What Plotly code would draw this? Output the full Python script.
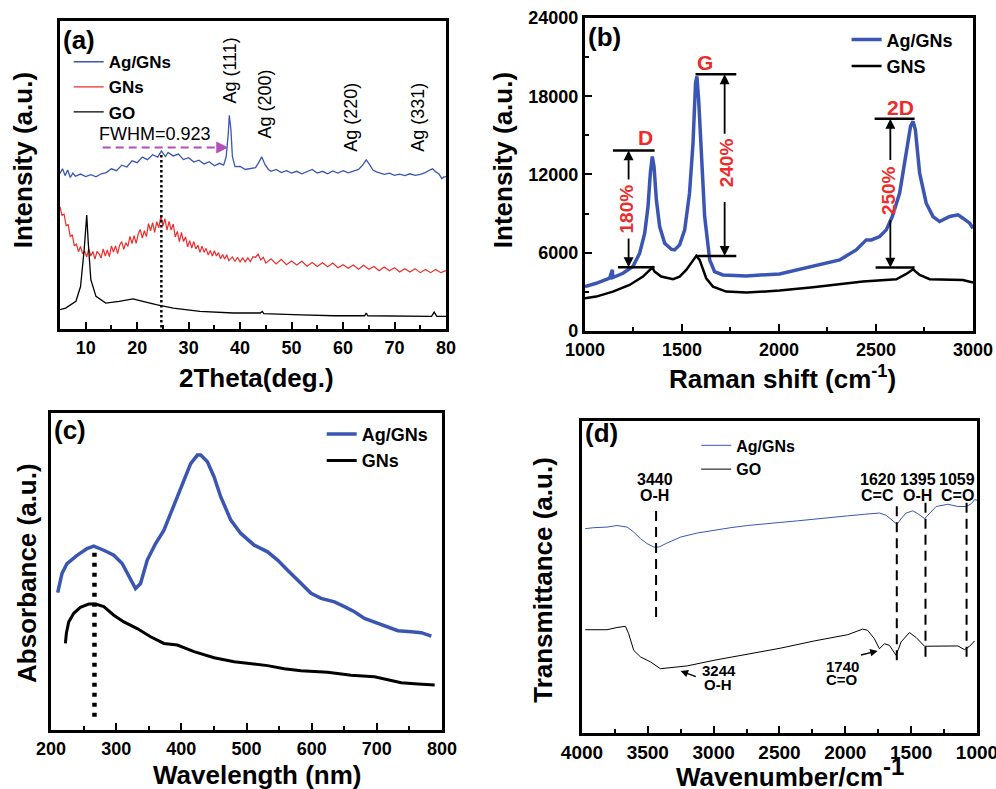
import plotly.graph_objects as go

FONT = "Liberation Sans, Arial, sans-serif"
BLUE = "#3a56b2"
RED = "#ee2b2b"
BLACK = "#000000"

# ---------------- (a) XRD ----------------
xrd_ag_x = [5.0, 5.5, 6.0, 6.5, 7.0, 7.5, 8.0, 9, 10, 11, 12, 13, 14, 15, 16, 17, 18, 19, 20, 21, 22, 23, 24,
            24.7, 25.5, 26, 27, 28, 29, 30, 31, 32, 33, 34, 35, 36, 36.8, 37.3, 37.7, 37.9, 38.2, 38.5, 39.0,
            40, 41, 42, 43, 43.6, 44.2, 44.8, 45.5, 46, 47, 48, 49, 50, 51, 52, 53, 54, 55, 56, 57, 58, 59,
            60, 61, 62, 63, 63.8, 64.5, 65.1, 65.8, 66.5, 67, 68, 69, 70, 71, 72, 73, 74, 75, 76, 76.8, 77.4,
            78, 78.6, 79.2, 79.6, 80]
xrd_ag_y = [50.5, 52.0, 49.8, 51.6, 49.2, 50.6, 49.6, 50.3, 49.5, 50.1, 49.4, 50.4, 50.8, 52.0, 51.4, 53.2,
            52.6, 54.6, 54.0, 55.8, 55.0, 56.6, 55.8, 57.8, 56.0, 57.3, 56.2, 56.8, 55.0, 55.6, 54.2, 54.8,
            53.6, 54.3, 53.0, 53.8, 53.2, 56.0, 63.5, 69.4, 65.0, 56.0, 52.7, 52.8, 51.8, 52.2, 52.4, 54.0,
            55.9, 53.5, 51.8, 51.2, 51.8, 50.8, 51.4, 50.6, 51.2, 50.4, 51.0, 51.8, 50.6, 51.2, 50.4, 51.3,
            50.6, 51.4, 50.7, 51.2, 51.8, 53.2, 54.9, 53.5, 51.6, 51.0, 50.8, 50.2, 50.6, 49.9, 50.3, 49.8,
            50.4, 49.9, 50.2, 50.8, 51.6, 52.0, 51.0, 50.4, 48.8, 49.4, 49.5]

xrd_gns_x = [5.0, 5.4, 5.8, 6.2, 6.6, 7.0, 7.4, 7.8, 8.2, 8.6, 9.0, 9.4, 9.8, 10.2, 10.6, 11.0, 11.4, 11.8,
             12.2, 12.6, 13.0, 13.4, 13.8, 14.2, 14.6, 15.0, 15.4, 15.8, 16.2, 16.6, 17.0, 17.4, 17.8, 18.2,
             18.6, 19.0, 19.4, 19.8, 20.2, 20.6, 21.0, 21.4, 21.8, 22.2, 22.6, 23.0, 23.4, 23.8, 24.2, 24.6,
             25.0, 25.4, 25.8, 26.2, 26.6, 27.0, 27.4, 27.8, 28.2, 28.6, 29.0, 29.4, 29.8, 30.2, 30.6, 31.0,
             31.4, 31.8, 32.2, 32.6, 33.0, 33.4, 33.8, 34.2, 34.6, 35.0, 35.4, 35.8, 36.2, 36.6, 37.0, 37.4,
             37.8, 38.5, 39.0, 39.5, 40.0, 40.5, 41.0, 41.5, 42.0, 42.5, 43.0, 43.5, 44.0, 44.5, 45.0, 46,
             47, 48, 49, 50, 51, 52, 53, 54, 55, 56, 57, 58, 59, 60, 61, 62, 63, 64, 65, 66, 67, 68, 69, 70,
             71, 72, 73, 74, 75, 76, 77, 78, 79, 80]
xrd_gns_y = [39.7, 36.9, 37.3, 33.6, 33.9, 29.9, 30.6, 27.0, 27.6, 25.1, 26.8, 24.4, 25.3, 23.4, 26.0, 23.7,
             25.2, 22.7, 25.2, 24.4, 23.1, 26.0, 23.7, 25.7, 23.5, 27.0, 25.0, 27.0, 24.5, 27.2, 28.4, 25.9,
             28.0, 26.8, 30.1, 27.7, 30.3, 27.8, 30.8, 32.3, 29.5, 31.9, 30.0, 34.2, 31.9, 34.5, 31.4, 34.8,
             32.9, 36.6, 33.5, 35.8, 32.1, 34.9, 32.1, 34.1, 29.9, 31.7, 28.4, 31.4, 28.4, 29.9, 26.7, 28.7,
             26.3, 28.4, 26.0, 27.2, 24.9, 26.9, 24.9, 26.2, 24.0, 25.5, 23.7, 25.4, 23.7, 24.8, 22.8, 24.2,
             22.7, 24.1, 22.2, 23.4, 21.9, 23.3, 21.8, 23.1, 21.8, 23.1, 21.9, 23.5, 23.3, 24.3, 22.4, 23.3,
             21.4, 22.8, 21.1, 22.6, 20.9, 22.1, 20.8, 22.0, 20.4, 21.6, 20.3, 21.5, 20.2, 21.4, 19.9, 20.9,
             19.7, 20.8, 19.4, 20.7, 19.4, 20.3, 18.9, 20.1, 18.9, 19.9, 18.5, 19.6, 18.5, 19.6, 18.3, 19.3,
             18.3, 19.3, 18.3, 19.0]

xrd_go_x = [5.0, 6.1, 8.1, 9.0, 9.7, 10.2, 10.5, 11.0, 12.0, 13.9, 16.5, 19.2, 21.1, 23.7, 27.0, 32.2,
            38.7, 43.9, 44.3, 44.6, 51.8, 58.3, 64.2, 64.5, 64.8, 71.3, 77.2, 77.7, 78.2, 80]
xrd_go_y = [6.3, 6.8, 9.0, 13.8, 25.7, 37.0, 27.9, 16.0, 10.6, 8.4, 9.0, 9.8, 9.0, 7.9, 6.8, 5.7,
            5.2, 5.2, 5.7, 5.0, 4.6, 4.3, 4.3, 5.2, 4.3, 4.1, 4.1, 5.5, 4.1, 4.1]

ag_peaks = ["Ag (111)", "Ag (200)", "Ag (220)", "Ag (331)"]
ag_peak_x = [38.1, 44.9, 61.5, 74.5]
ag_label_y = [84.0, 73.0, 68.8, 68.8]

xrd_ticks = [10, 20, 30, 40, 50, 60, 70, 80]
xrd_minor = [5, 15, 25, 35, 45, 55, 65, 75]

# ---------------- (b) Raman ----------------
raman_ag_x = [1000, 1058, 1127, 1141, 1144, 1196, 1247, 1282, 1308, 1325, 1337, 1347, 1356, 1368, 1385,
              1411, 1445, 1462, 1488, 1514, 1539, 1557, 1570, 1577, 1586, 1600, 1617, 1643, 1668, 1711,
              1832, 2003, 2175, 2313, 2398, 2450, 2476, 2519, 2553, 2584, 2622, 2656, 2678, 2691, 2703,
              2725, 2759, 2794, 2828, 2880, 2923, 2948, 2983, 3000]
raman_ag_y = [3403, 3659, 4043, 4683, 4100, 4427, 4939, 5962, 7498, 9545, 12104, 13384, 12616, 10057, 8010,
              6730, 6270, 6218, 6602, 7754, 10569, 14407, 19013, 19525, 17734, 13128, 8777, 5451, 4555, 4299,
              4222, 4376, 4939, 5451, 6218, 6986, 6986, 7242, 7754, 8777, 10569, 13640, 15687, 16071, 15431,
              12104, 9801, 8777, 8393, 8777, 8905, 8649, 8265, 7882]
raman_gns_x = [1000, 1058, 1144, 1230, 1299, 1333, 1347, 1359, 1393, 1454, 1488, 1522, 1557, 1574, 1591,
               1625, 1660, 1728, 1832, 2003, 2175, 2347, 2433, 2605, 2656, 2691, 2725, 2777, 2863, 2948, 3000]
raman_gns_y = [2508, 2636, 3020, 3531, 4171, 4632, 4862, 4555, 4171, 3966, 4171, 4683, 5451, 5758, 5451,
               4043, 3403, 3020, 2943, 3096, 3352, 3608, 3787, 3966, 4376, 4734, 4299, 3966, 3966, 3915, 3711]

raman_bands = ["D", "G", "2D"]
band_label_x = [1311, 1617, 2625]
band_label_y = [14868, 20600, 17171]
band_ratio = ["180%", "240%", "250%"]
ratio_x = [1213, 1728, 2565]
ratio_y = [9340, 12872, 10773]
band_top = [13844, 19678, 16275]
band_bottom = [4888, 5758, 4862]
band_top_x0 = [1144, 1570, 2493]
band_bottom_x0 = [1170, 1574, 2498]
band_x1 = [1359, 1780, 2699]
arrow_x = [1225, 1720, 2574]
gap_hi = [11500, 15000, 13000]
gap_lo = [7200, 10000, 8600]

raman_xticks = [1000, 1500, 2000, 2500, 3000]
raman_xminor = [1250, 1750, 2250, 2750]
raman_yticks = [0, 6000, 12000, 18000, 24000]
raman_yminor = [3000, 9000, 15000, 21000]

# ---------------- (c) UV-vis ----------------
uv_ag_x = [210.3, 216.9, 224.6, 240.0, 255.4, 265.6, 281.0, 296.4, 309.2, 319.5, 329.7, 337.4, 347.7, 360.5,
           373.3, 383.6, 393.8, 404.1, 414.3, 424.6, 429.7, 440.0, 450.3, 460.5, 475.9, 491.3, 511.8, 532.3,
           547.7, 563.1, 583.6, 599.0, 614.4, 634.9, 650.3, 665.6, 681.0, 701.5, 716.9, 732.3, 752.8, 768.2, 783.6]
uv_ag_y = [43.3, 49.4, 52.5, 55.1, 57.2, 58.0, 56.7, 55.1, 52.5, 48.3, 44.6, 46.2, 53.6, 58.8, 63.0, 68.3,
           73.5, 78.8, 84.0, 86.7, 86.7, 84.6, 79.8, 73.5, 66.2, 62.0, 58.3, 56.2, 53.6, 50.4, 46.2, 43.1,
           41.5, 40.4, 38.9, 37.3, 35.2, 33.6, 32.6, 31.3, 31.0, 30.7, 29.6]
uv_gns_x = [222.1, 223.6, 227.2, 234.9, 245.1, 258.0, 268.2, 281.0, 296.4, 311.8, 332.3, 352.8, 373.3, 393.8,
            419.5, 450.3, 481.0, 511.8, 532.3, 557.9, 583.6, 624.6, 660.5, 696.4, 716.9, 737.4, 763.0, 788.7]
uv_gns_y = [27.3, 30.5, 34.1, 36.8, 38.7, 39.7, 39.7, 38.9, 36.2, 34.1, 32.0, 29.4, 27.3, 26.8, 24.7, 22.8,
            21.5, 20.7, 20.3, 19.3, 18.7, 18.2, 17.3, 16.8, 15.8, 14.9, 14.5, 14.2]

uv_ticks = [200, 300, 400, 500, 600, 700, 800]
uv_minor = [250, 350, 450, 550, 650, 750]

# ---------------- (d) FTIR ----------------
ir_ag_x = [3975, 3911, 3810, 3734, 3657, 3607, 3556, 3505, 3454, 3416, 3353, 3251, 3124, 2997, 2871, 2744,
           2617, 2490, 2363, 2236, 2109, 1982, 1855, 1741, 1690, 1640, 1607, 1576, 1538, 1487, 1449, 1398,
           1360, 1310, 1221, 1145, 1081, 1043, 1018, 1000]
ir_ag_y = [65.5, 65.8, 66.0, 66.5, 66.0, 64.4, 62.3, 60.7, 59.6, 59.6, 60.9, 62.8, 64.1, 65.0, 65.8, 66.5,
           66.9, 67.5, 68.0, 68.6, 69.0, 69.6, 70.1, 70.5, 69.8, 68.2, 66.9, 68.7, 70.5, 71.2, 70.3, 68.7,
           70.3, 72.6, 73.3, 72.6, 72.6, 73.5, 74.8, 74.6]
ir_go_x = [3975, 3810, 3734, 3670, 3645, 3607, 3556, 3480, 3404, 3328, 3201, 2997, 2744, 2490, 2236, 1982,
           1868, 1830, 1779, 1741, 1703, 1665, 1614, 1576, 1513, 1462, 1398, 1347, 1145, 1094, 1056, 1018]
ir_go_y = [33.1, 33.1, 33.8, 34.2, 31.8, 26.5, 24.4, 22.8, 20.6, 20.9, 21.5, 23.3, 25.2, 27.2, 29.5, 31.5,
           33.3, 32.9, 30.2, 27.0, 28.6, 28.1, 24.9, 29.2, 32.2, 30.6, 27.8, 27.8, 27.9, 26.7, 27.8, 29.5]

ir_top_wn = ["3440", "1620", "1395", "1059"]
ir_top_grp = ["O-H", "C=C", "O-H", "C=O"]
ir_top_label_x = [3449, 1754, 1449, 1150]
ir_line_x = [3437, 1609, 1391, 1079]
ir_line_y0 = [37.2, 23.3, 24.4, 24.4]
ir_line_y1 = [72.6, 74.6, 75.4, 75.4]

ir_ticks = [4000, 3500, 3000, 2500, 2000, 1500, 1000]
ir_minor = [3750, 3250, 2750, 2250, 1750, 1250]

fig = go.Figure()

fig.add_trace(go.Scatter(x=xrd_ag_x, y=xrd_ag_y, mode="lines", name="Ag/GNs", line=dict(color=BLUE, width=1.3),
                         xaxis="x", yaxis="y", legend="legend"))
fig.add_trace(go.Scatter(x=xrd_gns_x, y=xrd_gns_y, mode="lines", name="GNs", line=dict(color=RED, width=1.2),
                         xaxis="x", yaxis="y", legend="legend"))
fig.add_trace(go.Scatter(x=xrd_go_x, y=xrd_go_y, mode="lines", name="GO", line=dict(color=BLACK, width=1.3),
                         xaxis="x", yaxis="y", legend="legend"))

fig.add_trace(go.Scatter(x=raman_ag_x, y=raman_ag_y, mode="lines", name="Ag/GNs", line=dict(color=BLUE, width=3.5),
                         xaxis="x2", yaxis="y2", legend="legend2"))
fig.add_trace(go.Scatter(x=raman_gns_x, y=raman_gns_y, mode="lines", name="GNS", line=dict(color=BLACK, width=2.5),
                         xaxis="x2", yaxis="y2", legend="legend2"))

fig.add_trace(go.Scatter(x=uv_ag_x, y=uv_ag_y, mode="lines", name="Ag/GNs", line=dict(color=BLUE, width=3.5),
                         xaxis="x3", yaxis="y3", legend="legend3"))
fig.add_trace(go.Scatter(x=uv_gns_x, y=uv_gns_y, mode="lines", name="GNs", line=dict(color=BLACK, width=3),
                         xaxis="x3", yaxis="y3", legend="legend3"))

fig.add_trace(go.Scatter(x=ir_ag_x, y=ir_ag_y, mode="lines", name="Ag/GNs", line=dict(color=BLUE, width=1),
                         xaxis="x4", yaxis="y4", legend="legend4"))
fig.add_trace(go.Scatter(x=ir_go_x, y=ir_go_y, mode="lines", name="GO", line=dict(color=BLACK, width=1),
                         xaxis="x4", yaxis="y4", legend="legend4"))

tickfont = dict(family=FONT, size=18, color="black", weight="bold")


def bold(vals):
    return ["<b>%d</b>" % v for v in vals]


def xax(dom, rng, ticks, minor, anchor, size=18):
    return dict(domain=dom, range=rng, anchor=anchor, showline=True, mirror=True, linewidth=3, linecolor="black",
                ticks="inside", ticklen=7, tickwidth=2, tickcolor="black", tickmode="array",
                tickvals=ticks, ticktext=bold(ticks), ticklabeloverflow="allow",
                minor=dict(ticks="inside", ticklen=4, tickwidth=2, tickvals=minor, tickcolor="black"),
                showgrid=False, zeroline=False, tickfont=dict(tickfont, size=size), fixedrange=True,
                automargin=False)


def yax(dom, rng, anchor, ticks=None, minor=None):
    d = dict(domain=dom, range=rng, anchor=anchor, showline=True, mirror=True, linewidth=3, linecolor="black",
             showgrid=False, zeroline=False, tickfont=tickfont, fixedrange=True, automargin=False)
    if ticks:
        d.update(ticks="inside", ticklen=7, tickwidth=2, tickcolor="black", tickmode="array",
                 tickvals=ticks, ticktext=bold(ticks), ticklabeloverflow="allow",
                 minor=dict(ticks="inside", ticklen=4, tickwidth=2, tickvals=minor, tickcolor="black"))
    else:
        d.update(showticklabels=False, ticks="")
    return d


def leg(x, y, size=18):
    return dict(x=x, y=y, xanchor="left", yanchor="top", bgcolor="rgba(0,0,0,0)", borderwidth=0,
                font=dict(family=FONT, size=size, color="black", weight="bold"), itemwidth=30)


fig.update_layout(
    width=996, height=789, margin=dict(l=0, r=0, t=0, b=0, autoexpand=False),
    paper_bgcolor="white", plot_bgcolor="white",
    xaxis=xax([0.0602, 0.4478], [5, 80], xrd_ticks, xrd_minor, "y"),
    yaxis=yax([0.583, 0.9734], [0, 100], "x"),
    xaxis2=xax([0.5873, 0.9769], [1000, 3000], raman_xticks, raman_xminor, "y2"),
    yaxis2=yax([0.5805, 0.9772], [0, 24000], "x2", raman_yticks, raman_yminor),
    xaxis3=xax([0.0512, 0.4438], [200, 800], uv_ticks, uv_minor, "y3"),
    yaxis3=yax([0.0748, 0.4766], [0, 100], "x3"),
    xaxis4=xax([0.5843, 0.9809], [4000, 1000], ir_ticks, ir_minor, "y4", 19),
    yaxis4=yax([0.0710, 0.4664], [0, 100], "x4"),
    legend=leg(0.069, 0.944, 17),
    legend2=leg(0.850, 0.973, 18),
    legend3=leg(0.323, 0.473, 18),
    legend4=leg(0.699, 0.457, 16),
    showlegend=True,
)

ann = []
shapes = []


def text(x, y, s, size, xref="paper", yref="paper", color="black", bold=True, angle=0):
    ann.append(dict(x=x, y=y, xref=xref, yref=yref, text=s, showarrow=False, textangle=angle,
                    xanchor="center", yanchor="middle",
                    font=dict(family=FONT, size=size, color=color, weight="bold" if bold else "normal")))


# axis titles
text(0.258, 0.521, "2Theta(deg.)", 26)
text(0.0231, 0.797, "Intensity (a.u.)", 26, angle=-90)
text(0.786, 0.521, "Raman shift (cm<sup>-1</sup>)", 26)
text(0.505, 0.797, "Intensity (a.u.)", 26, angle=-90)
text(0.258, 0.0177, "Wavelength (nm)", 26)
text(0.0271, 0.2738, "Absorbance (a.u.)", 26, angle=-90)
text(0.793, 0.0203, "Wavenumber/cm<sup><span style='font-size:24px'>-1</span></sup>", 26)
text(0.545, 0.2649, "Transmittance (a.u.)", 26, angle=-90)

# panel labels
text(0.0793, 0.9493, "(a)", 26)
text(0.6074, 0.9531, "(b)", 26)
text(0.0703, 0.455, "(c)", 26)
text(0.6044, 0.4512, "(d)", 26)

# (a) annotations
for lab, px, py in zip(ag_peaks, ag_peak_x, ag_label_y):
    text(px, py, lab, 18, "x", "y", bold=False, angle=-90)
text(23.4, 63.3, "FWHM=0.923", 18, "x", "y", bold=False)
shapes.append(dict(type="line", xref="x", yref="y", x0=13.3, x1=36.3, y0=58.9, y1=58.9,
                   line=dict(color="#b050b8", width=2, dash="8px,5px")))
ann.append(dict(x=37.7, y=58.9, ax=35.6, ay=58.9, xref="x", yref="y", axref="x", ayref="y", text="",
                showarrow=True, arrowhead=2, arrowsize=1.2, arrowwidth=2, arrowcolor="#b050b8"))
shapes.append(dict(type="line", xref="x", yref="y", x0=24.7, x1=24.7, y0=0.5, y1=57.0,
                   line=dict(color="black", width=2.5, dash="2.5px,2.5px")))

# (b) annotations
for i in range(3):
    text(band_label_x[i], band_label_y[i], raman_bands[i], 21, "x2", "y2", color=RED)
    text(ratio_x[i], ratio_y[i], band_ratio[i], 19, "x2", "y2", color=RED, angle=-90)
    shapes.append(dict(type="line", xref="x2", yref="y2", x0=band_top_x0[i], x1=band_x1[i],
                       y0=band_top[i], y1=band_top[i], line=dict(color="black", width=2.5)))
    shapes.append(dict(type="line", xref="x2", yref="y2", x0=band_bottom_x0[i], x1=band_x1[i],
                       y0=band_bottom[i], y1=band_bottom[i], line=dict(color="black", width=2.5)))
    ann.append(dict(x=arrow_x[i], y=band_top[i], ax=arrow_x[i], ay=gap_hi[i], xref="x2", yref="y2",
                    axref="x2", ayref="y2", text="", showarrow=True, arrowhead=2, arrowsize=1.1,
                    arrowwidth=1.8, arrowcolor="black"))
    ann.append(dict(x=arrow_x[i], y=band_bottom[i], ax=arrow_x[i], ay=gap_lo[i], xref="x2", yref="y2",
                    axref="x2", ayref="y2", text="", showarrow=True, arrowhead=2, arrowsize=1.1,
                    arrowwidth=1.8, arrowcolor="black"))

# (c) dotted line
shapes.append(dict(type="line", xref="x3", yref="y3", x0=266.7, x1=266.7, y0=4.2, y1=57.8,
                   line=dict(color="black", width=4.5, dash="4px,6px")))

# (d) annotations
for i in range(4):
    text(ir_top_label_x[i], 81.2, ir_top_wn[i], 16, "x4", "y4")
    text(ir_top_label_x[i], 76.2, ir_top_grp[i], 16, "x4", "y4")
    shapes.append(dict(type="line", xref="x4", yref="y4", x0=ir_line_x[i], x1=ir_line_x[i],
                       y0=ir_line_y0[i], y1=ir_line_y1[i], line=dict(color="black", width=2, dash="10px,6px")))
text(2959, 20.1, "3244", 15, "x4", "y4")
text(2965, 15.6, "O-H", 15, "x4", "y4")
text(2020, 21.2, "1740", 15, "x4", "y4")
text(2025, 17.1, "C=O", 15, "x4", "y4")
ann.append(dict(x=3251, y=19.9, ax=3124, ay=17.9, xref="x4", yref="y4", axref="x4", ayref="y4", text="",
                showarrow=True, arrowhead=2, arrowsize=1, arrowwidth=1.5, arrowcolor="black"))
ann.append(dict(x=1754, y=26.3, ax=1893, ay=24.9, xref="x4", yref="y4", axref="x4", ayref="y4", text="",
                showarrow=True, arrowhead=2, arrowsize=1, arrowwidth=1.5, arrowcolor="black"))

fig.update_layout(annotations=ann, shapes=shapes)
fig.write_html("out.html")
